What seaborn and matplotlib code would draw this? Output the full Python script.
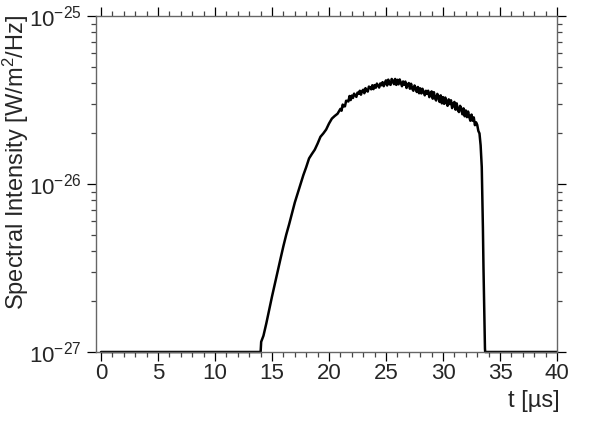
import numpy as np
import pandas as pd
import seaborn as sns
import matplotlib.pyplot as plt
from matplotlib.ticker import LogLocator, LogFormatterMathtext, MultipleLocator

# time axis [us], rising edge
t_rise = [0.0, 14.0, 14.05, 14.25, 14.5, 14.75, 15.0, 15.25, 15.5, 15.75,
          16.0, 16.25, 16.5, 16.75, 17.0, 17.25, 17.5, 17.75,
          18.0, 18.25, 18.5, 18.75, 19.0, 19.25, 19.5, 19.75,
          20.0, 20.25, 20.5, 20.75]
# spectral intensity in units of 1e-26 W/m^2/Hz
i_rise = [0.1, 0.1, 0.115, 0.125, 0.148, 0.178, 0.214, 0.255, 0.302, 0.36,
          0.427, 0.50, 0.575, 0.67, 0.776, 0.88, 1.00, 1.13,
          1.26, 1.42, 1.51, 1.60, 1.74, 1.91, 2.00, 2.11,
          2.29, 2.45, 2.54, 2.62]

# noisy plateau
t_top = [21.0, 21.1, 21.2, 21.3, 21.4, 21.5, 21.6, 21.7, 21.8, 21.9,
         22.0, 22.1, 22.2, 22.3, 22.4, 22.5, 22.6, 22.7, 22.8, 22.9,
         23.0, 23.1, 23.2, 23.3, 23.4, 23.5, 23.6, 23.7, 23.8, 23.9,
         24.0, 24.1, 24.2, 24.3, 24.4, 24.5, 24.6, 24.7, 24.8, 24.9,
         25.0, 25.1, 25.2, 25.3, 25.4, 25.5, 25.6, 25.7, 25.8, 25.9,
         26.0, 26.1, 26.2, 26.3, 26.4, 26.5, 26.6, 26.7, 26.8, 26.9,
         27.0, 27.1, 27.2, 27.3, 27.4, 27.5, 27.6, 27.7, 27.8, 27.9,
         28.0, 28.1, 28.2, 28.3, 28.4, 28.5, 28.6, 28.7, 28.8, 28.9,
         29.0, 29.1, 29.2, 29.3, 29.4, 29.5, 29.6, 29.7, 29.8, 29.9,
         30.0, 30.1, 30.2, 30.3, 30.4, 30.5, 30.6, 30.7, 30.8, 30.9,
         31.0, 31.1, 31.2, 31.3, 31.4, 31.5, 31.6, 31.7, 31.8, 31.9,
         32.0, 32.1, 32.2, 32.3, 32.4, 32.5, 32.6, 32.7, 32.8, 32.9,
         33.0, 33.1, 33.2]
i_top = [2.80, 2.73, 2.97, 2.90, 2.90, 3.13, 3.12, 3.10, 3.34, 3.16,
         3.36, 3.25, 3.45, 3.37, 3.30, 3.50, 3.44, 3.59, 3.40, 3.57,
         3.64, 3.47, 3.72, 3.59, 3.55, 3.80, 3.76, 3.66, 3.87, 3.67,
         3.88, 3.74, 3.96, 3.85, 3.75, 3.97, 3.87, 4.04, 3.82, 4.00,
         4.14, 3.86, 4.18, 3.95, 3.89, 4.22, 4.11, 3.93, 4.22, 3.89,
         4.17, 3.92, 4.19, 4.00, 3.82, 4.08, 3.90, 4.07, 3.73, 3.90,
         3.99, 3.69, 3.95, 3.69, 3.59, 3.86, 3.73, 3.53, 3.78, 3.47,
         3.71, 3.46, 3.69, 3.53, 3.37, 3.59, 3.44, 3.59, 3.29, 3.44,
         3.56, 3.22, 3.52, 3.23, 3.14, 3.44, 3.32, 3.08, 3.37, 3.02,
         3.29, 3.00, 3.27, 3.06, 2.92, 3.19, 2.99, 3.15, 2.83, 3.01,
         3.08, 2.77, 3.02, 2.76, 2.68, 2.92, 2.81, 2.60, 2.82, 2.53,
         2.74, 2.50, 2.70, 2.51, 2.38, 2.59, 2.38, 2.49, 2.24, 2.33,
         2.25, 2.07, 2.00]

# falling edge and floor
t_fall = [33.3, 33.4, 33.5, 33.55, 33.62, 33.68, 33.7, 40.0]
i_fall = [1.70, 1.26, 0.55, 0.32, 0.17, 0.105, 0.1, 0.1]

df = pd.DataFrame({"t": t_rise + t_top + t_fall,
                   "I": np.array(i_rise + i_top + i_fall) * 1e-26})

sns.set_style("ticks")
plt.rcParams['font.family'] = ['Liberation Sans', 'DejaVu Sans']
plt.rcParams['mathtext.fontset'] = 'custom'
plt.rcParams['mathtext.rm'] = 'Liberation Sans'
plt.rcParams['mathtext.it'] = 'Liberation Sans:italic'

fig = plt.figure(figsize=(5.99, 4.24), dpi=100)
ax = fig.add_axes([96 / 599, 72 / 424, 461 / 599, 336 / 424])

sns.lineplot(data=df, x="t", y="I", ax=ax, color="black", linewidth=1.8,
             estimator=None, sort=False, clip_on=False)

ax.set_yscale("log")
ax.set_ylim(1e-27, 1e-25)
ax.set_xlim(-0.44, 40)

ax.xaxis.set_major_locator(MultipleLocator(5))
ax.xaxis.set_minor_locator(MultipleLocator(1))
ax.yaxis.set_major_locator(LogLocator(base=10))
ax.yaxis.set_minor_locator(LogLocator(base=10, subs=np.arange(2, 10)))
ax.yaxis.set_major_formatter(LogFormatterMathtext())

for s in ax.spines.values():
    s.set_color("#666666")
    s.set_linewidth(1.0)

ax.tick_params(which="both", direction="out", top=True, right=True,
               labelsize=16, color="black", width=0.9)
ax.tick_params(which="major", length=6.5)
ax.tick_params(which="minor", length=3.6, color="#444444")
ax.tick_params(axis="x", which="major", pad=1.5)
ax.tick_params(axis="y", which="major", pad=4)

ax.set_xlabel("t [\u00b5s]", fontsize=17, loc="right")
ax.set_ylabel("Spectral Intensity [W/m$^2$/Hz]", fontsize=17)
ax.yaxis.set_label_coords(-0.142, 0.565)
ax.xaxis.set_label_coords(1.005, -0.113)

fig.savefig("out.png", dpi=100)
